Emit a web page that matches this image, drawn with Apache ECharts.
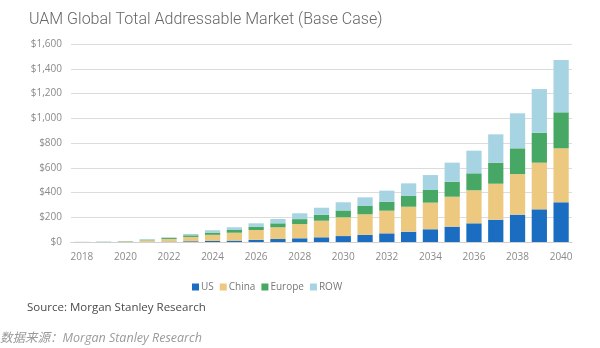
<!DOCTYPE html>
<html>
<head>
<meta charset="utf-8">
<script src="https://cdn.jsdelivr.net/npm/echarts@6/dist/echarts.min.js"></script>
<style>
  html, body { margin: 0; padding: 0; background: #ffffff; }
  #chart { width: 600px; height: 348px; }
</style>
</head>
<body>
<div id="chart"></div>
<script>
// UAM total addressable market by region, $bn
const years = ['2018','2019','2020','2021','2022','2023','2024','2025','2026','2027','2028','2029',
               '2030','2031','2032','2033','2034','2035','2036','2037','2038','2039','2040'];
const us     = [0.5, 1, 1, 2, 3, 6, 8, 11, 17, 24, 30, 38, 48, 57, 70, 83, 103, 124, 151, 180, 221, 264, 321];
const china  = [0.5, 1, 4, 12, 22, 35, 50, 64, 80, 95, 115, 134, 152, 167, 183, 202, 215, 242, 267, 291, 328, 377, 436];
const europe = [0, 0.5, 2, 5, 8, 13, 18, 22, 27, 32, 40, 47, 55, 67, 73, 87, 102, 121, 137, 170, 208, 242, 291];
const row    = [0, 0.5, 1, 3, 5, 11, 19, 22, 27, 35, 47, 58, 66, 70, 89, 102, 121, 154, 183, 229, 283, 353, 423];
const yTicks = [0, 200, 400, 600, 800, 1000, 1200, 1400, 1600];

const seriesDefs = [
  { name: 'US',     data: us,     color: '#1b6dc1' },
  { name: 'China',  data: china,  color: '#edc97f' },
  { name: 'Europe', data: europe, color: '#46a864' },
  { name: 'ROW',    data: row,    color: '#a7d4e2' }
];

const chart = echarts.init(document.getElementById('chart'), null, { renderer: 'canvas' });

chart.setOption({
  backgroundColor: '#ffffff',
  animation: false,
  title: {
    text: 'UAM Global Total Addressable Market (Base Case)',
    left: 24,
    top: 7,
    textStyle: { fontFamily: 'Roboto', fontWeight: 300, fontSize: 16, color: '#666666' }
  },
  grid: { left: 71, right: 28, top: 44, bottom: 106 },
  legend: {
    data: seriesDefs.map(s => s.name),
    left: 187,
    top: 277,
    itemWidth: 7,
    itemHeight: 7,
    itemGap: 6,
    icon: 'rect',
    textStyle: { fontFamily: 'Open Sans', fontSize: 10, color: '#777777', padding: [0, 0, 0, -3] }
  },
  xAxis: {
    type: 'category',
    data: years,
    axisLine: { show: true, lineStyle: { color: '#d0d0d0', width: 1 } },
    axisTick: { show: false },
    axisLabel: {
      interval: 1,
      margin: 10,
      fontFamily: 'Open Sans',
      fontSize: 10,
      color: '#8a8a8a'
    }
  },
  yAxis: {
    type: 'value',
    min: yTicks[0],
    max: yTicks[yTicks.length - 1],
    interval: 200,
    axisLine: { show: false },
    axisTick: { show: false },
    splitLine: { lineStyle: { color: '#dcdcdc', width: 1 } },
    axisLabel: {
      margin: 9,
      fontFamily: 'Open Sans',
      fontSize: 10,
      color: '#8a8a8a',
      formatter: v => '$' + v.toLocaleString('en-US')
    }
  },
  series: seriesDefs.map(s => ({
    name: s.name,
    type: 'bar',
    stack: 'tam',
    data: s.data,
    barCategoryGap: '30%',
    itemStyle: { color: s.color }
  })),
  graphic: [
    {
      type: 'text',
      left: 27,
      top: 302,
      style: {
        text: 'Source: Morgan Stanley Research',
        font: '11.5px "Open Sans"',
        fill: '#4a4a4a'
      }
    },
    {
      type: 'text',
      left: 0,
      top: 332,
      style: {
        text: '数据来源：Morgan Stanley Research',
        font: 'italic 12.5px "Open Sans", "Noto Sans CJK SC"',
        fill: '#9a9a9a'
      }
    }
  ]
});
</script>
</body>
</html>
